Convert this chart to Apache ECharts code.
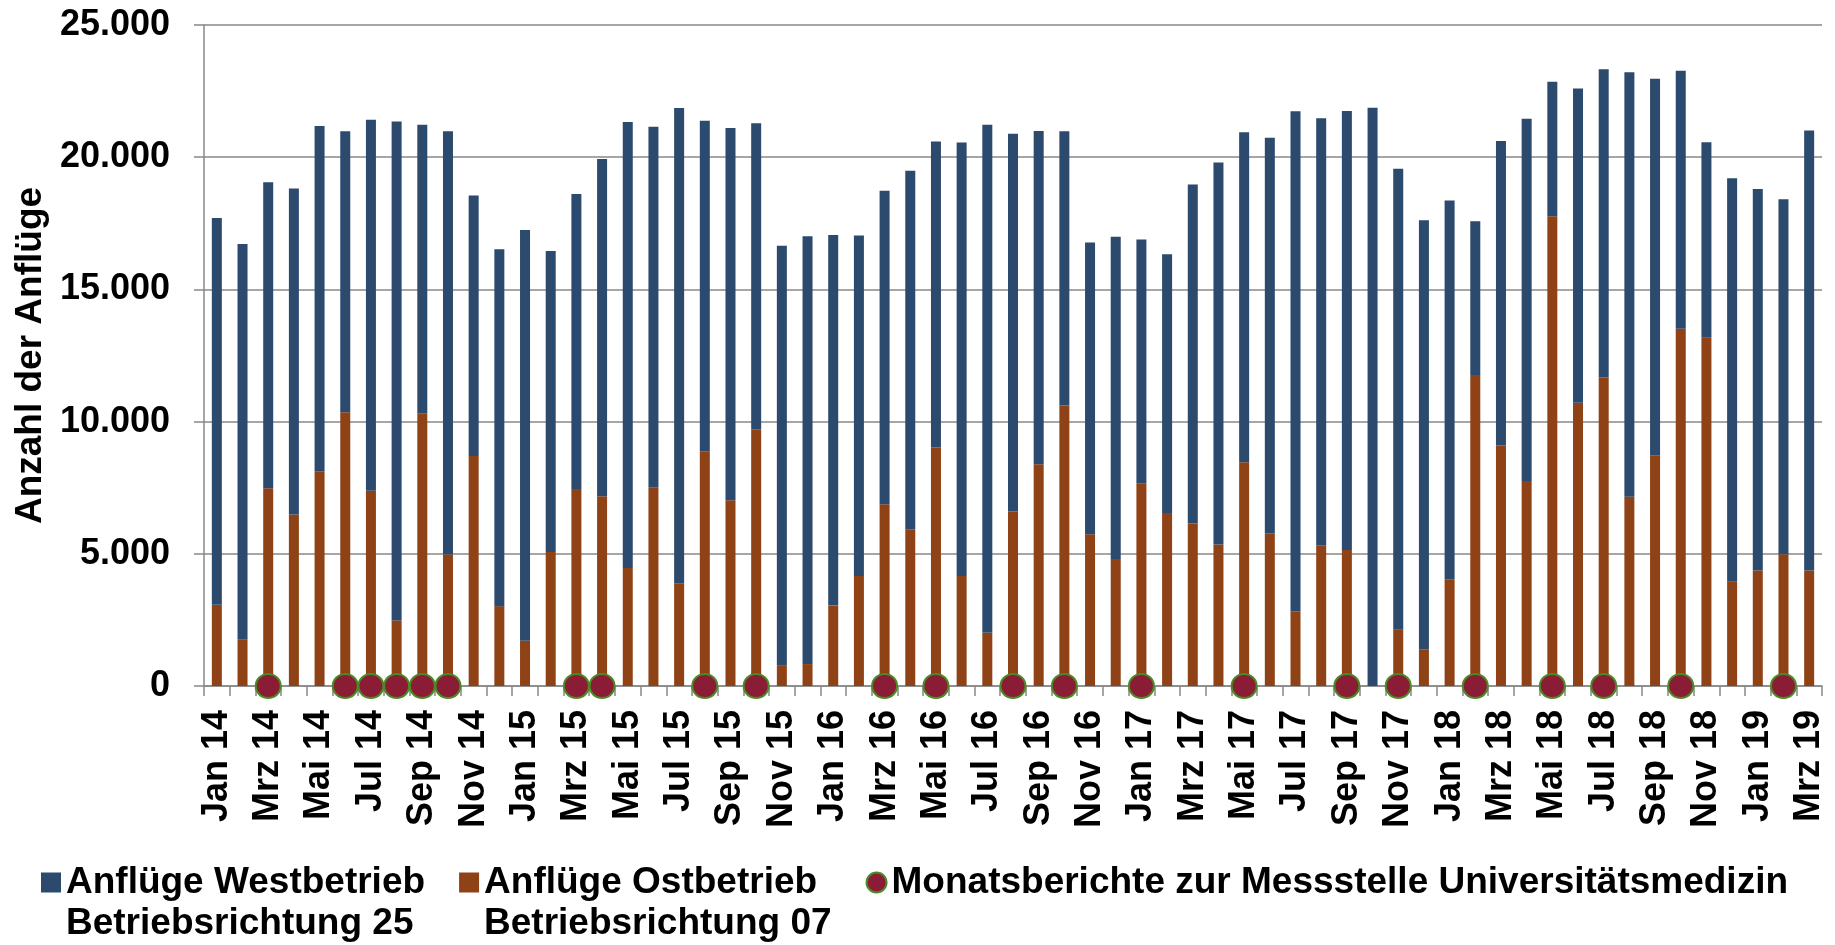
<!DOCTYPE html>
<html>
<head>
<meta charset="utf-8">
<script src="https://cdn.jsdelivr.net/npm/echarts@6/dist/echarts.min.js"></script>
<style>
html,body{margin:0;padding:0;background:#fff;}
#chart{width:1835px;height:945px;}
</style>
</head>
<body>
<div id="chart"></div>
<script>
// ---- Data ----
const months = [
  'Jan 14','Feb 14','Mrz 14','Apr 14','Mai 14','Jun 14','Jul 14','Aug 14','Sep 14','Okt 14','Nov 14','Dez 14',
  'Jan 15','Feb 15','Mrz 15','Apr 15','Mai 15','Jun 15','Jul 15','Aug 15','Sep 15','Okt 15','Nov 15','Dez 15',
  'Jan 16','Feb 16','Mrz 16','Apr 16','Mai 16','Jun 16','Jul 16','Aug 16','Sep 16','Okt 16','Nov 16','Dez 16',
  'Jan 17','Feb 17','Mrz 17','Apr 17','Mai 17','Jun 17','Jul 17','Aug 17','Sep 17','Okt 17','Nov 17','Dez 17',
  'Jan 18','Feb 18','Mrz 18','Apr 18','Mai 18','Jun 18','Jul 18','Aug 18','Sep 18','Okt 18','Nov 18','Dez 18',
  'Jan 19','Feb 19','Mrz 19'
];
// Anflüge Ostbetrieb (Betriebsrichtung 07)
const ostValues = [
  3070,1770,7480,6490,8120,10350,7380,2480,10320,4970,8700,3020,
  1710,5070,7450,7180,4460,7520,3890,8880,7030,9710,790,830,
  3040,4160,6870,5930,9020,4160,2010,6600,8390,10610,5740,4800,
  7670,6540,6150,5350,8460,5780,2820,5320,5140,0,2130,1390,
  4040,11760,9100,7750,17770,10710,11670,7160,8730,13510,13170,3940,
  4370,4980,4370
];
// Anflüge Westbetrieb (Betriebsrichtung 25)
const westValues = [
  14630,14950,11570,12330,13060,10630,14040,18870,10910,16010,9850,13500,
  15540,11380,11160,12750,16870,13630,17970,12500,14070,11570,15860,16180,
  14020,12880,11860,13560,11570,16400,19220,14290,12600,10370,11030,12190,
  9220,9790,12820,14450,12480,14960,18920,16150,16610,21870,17430,16230,
  14320,5820,11510,13700,5080,11890,11660,16050,14240,9760,7400,15260,
  14430,13430,16640
];
// Monate mit Monatsberichten zur Messstelle Universitätsmedizin
const reportMonths = [
  'Mrz 14','Jun 14','Jul 14','Aug 14','Sep 14','Okt 14',
  'Mrz 15','Apr 15','Aug 15','Okt 15',
  'Mrz 16','Mai 16','Aug 16','Okt 16',
  'Jan 17','Mai 17','Sep 17','Nov 17',
  'Feb 18','Mai 18','Jul 18','Okt 18',
  'Feb 19'
];
const yTicks = [0, 5000, 10000, 15000, 20000, 25000];

const nameWest = 'Anflüge Westbetrieb\nBetriebsrichtung 25';
const nameOst = 'Anflüge Ostbetrieb\nBetriebsrichtung 07';
const nameReport = 'Monatsberichte zur Messstelle Universitätsmedizin';

const reportData = months.map(m => reportMonths.indexOf(m) >= 0 ? 0 : null);

const FONT = "'Liberation Sans', Arial, sans-serif";
const GRAY = '#888888';

const chart = echarts.init(document.getElementById('chart'), null, {renderer: 'canvas'});
chart.setOption({
  animation: false,
  backgroundColor: '#ffffff',
  textStyle: {fontFamily: FONT},
  grid: {left: 204, right: 13, top: 25, bottom: 259, containLabel: false},
  legend: {
    left: 41,
    top: 821,
    padding: 0,
    itemGap: 34,
    itemWidth: 20,
    itemHeight: 20,
    selectedMode: false,
    // an empty first line keeps the icon level with the first text line
    formatter: n => n.indexOf('\n') >= 0 ? ' \n' + n : n,
    textStyle: {fontFamily: FONT, fontSize: 37, fontWeight: 'bold', color: '#000', lineHeight: 41},
    data: [
      {name: nameWest, icon: 'rect'},
      {name: nameOst, icon: 'rect'},
      {name: nameReport, icon: 'circle'}
    ]
  },
  xAxis: {
    type: 'category',
    data: months,
    boundaryGap: true,
    axisLine: {show: true, lineStyle: {color: GRAY, width: 1.5}},
    axisTick: {show: true, interval: 0, length: 10, lineStyle: {color: GRAY, width: 1.5}},
    axisLabel: {
      interval: 1,
      rotate: 90,
      margin: 24,
      fontFamily: FONT,
      fontSize: 36,
      fontWeight: 'bold',
      color: '#000'
    },
    splitLine: {show: false}
  },
  yAxis: {
    type: 'value',
    min: yTicks[0],
    max: yTicks[yTicks.length - 1],
    interval: yTicks[1] - yTicks[0],
    name: 'Anzahl der Anflüge',
    nameLocation: 'middle',
    nameGap: 154,
    nameTextStyle: {fontFamily: FONT, fontSize: 37, fontWeight: 'bold', color: '#000'},
    axisLine: {show: true, lineStyle: {color: GRAY, width: 1.5}},
    axisTick: {show: true, length: 10, lineStyle: {color: GRAY, width: 1.5}},
    axisLabel: {
      margin: 34,
      fontFamily: FONT,
      fontSize: 36,
      fontWeight: 'bold',
      color: '#000',
      formatter: v => v === 0 ? '0' : v.toLocaleString('de-DE').replace(/,/g, '.')
    },
    splitLine: {show: true, lineStyle: {color: GRAY, width: 1.5}}
  },
  series: [
    {
      name: nameOst,
      type: 'bar',
      stack: 'total',
      barWidth: 10,
      data: ostValues,
      itemStyle: {color: '#8E4216'},
      z: 2
    },
    {
      name: nameWest,
      type: 'bar',
      stack: 'total',
      barWidth: 10,
      data: westValues,
      itemStyle: {color: '#2B4A6D'},
      z: 2
    },
    {
      name: nameReport,
      type: 'scatter',
      data: reportData,
      symbol: 'circle',
      symbolSize: [25, 24],
      clip: false,
      itemStyle: {color: '#8A1D35', borderColor: '#4B8B26', borderWidth: 2, opacity: 1},
      z: 5
    }
  ]
});
</script>
</body>
</html>
